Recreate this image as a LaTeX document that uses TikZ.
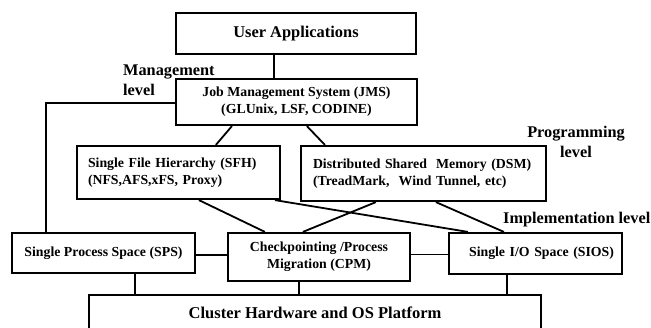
\documentclass[tikz,border=0pt]{standalone}
\usepackage{fontspec}
\setmainfont{Liberation Serif}
\begin{document}
\begin{tikzpicture}[x=1pt,y=-1pt,
  box/.style={draw, line width=2.2pt, inner sep=0pt, font=\bfseries\fontsize{13.8}{17}\selectfont},
  bigbox/.style={box, font=\bfseries\fontsize{16.4}{20}\selectfont},
  lvl/.style={inner sep=0pt, font=\bfseries\fontsize{16.3}{20}\selectfont},
  conn/.style={line width=1.8pt}]
\useasboundingbox (0,0) rectangle (651,327);

% boxes
\node[bigbox, minimum width=240pt, minimum height=41pt] (ua) at (296,33.5) {User Applications};
\node[box, minimum width=241pt, minimum height=46pt, align=center] (jms) at (296.5,102)
  {Job Management System (JMS)\\(GLUnix, LSF, CODINE)};
\node[box, minimum height=53pt, inner xsep=11pt, text width=181pt, align=left] (sfh) at (178.5,172.5)
  {Single File Hierarchy (SFH)\\(NFS,AFS,xFS, Proxy)};
\node[box, minimum height=55pt, inner xsep=12pt, text width=221pt, align=left] (dsm) at (423.5,173.5)
  {Distributed Shared\ \ Memory (DSM)\\(TreadMark,\ \ Wind Tunnel, etc)};
\node[box, minimum width=183pt, minimum height=40pt] (sps) at (103.5,253) {Single Process Space (SPS)};
\node[box, minimum width=182pt, minimum height=48pt, align=center] (cpm) at (319,257)
  {Checkpointing /Process\\Migration (CPM)};
\node[box, minimum height=41pt, inner xsep=8pt, text width=157pt, align=right] (sios) at (535.5,253.5)
  {Single I/O Space (SIOS)};
\node[inner sep=0pt, minimum width=452pt, minimum height=36pt,
      font=\bfseries\fontsize{16.5}{20}\selectfont] (cl) at (315,313) {Cluster Hardware and OS Platform};
\draw[line width=2.2pt] (cl.south west) -- (cl.north west) -- (cl.north east) -- (cl.south east);

% level labels
\node[lvl, anchor=west, align=left] (mgmt) at (123,80) {Management\\level};
\node[lvl, align=center] (prog) at (576,142) {Programming\\level};
\node[lvl, anchor=west] (impl) at (503,220) {Implementation level};

% connectors
\draw[conn] ([xshift=99pt]ua.south west) -- ([xshift=99pt]jms.north west);
\draw[conn] ([yshift=-1pt]jms.west) -| ([xshift=35pt]sps.north west);
\draw[conn] ([xshift=57pt]jms.south west) -- ([xshift=140pt]sfh.north west);
\draw[conn] ([xshift=132pt]jms.south west) -- ([xshift=25pt]dsm.north west);
\draw[conn] ([yshift=-2pt]sps.east) -- ([yshift=-2pt]sps.east -| cpm.west);
\draw[conn] ([yshift=-1pt]sios.west) -- ([yshift=-1pt]sios.west -| cpm.east);
\draw[conn] ([xshift=124pt]sps.south west) -- ([xshift=124pt]sps.south west |- cl.north);
\draw[conn] ([xshift=72pt]cpm.south west) -- ([xshift=72pt]cpm.south west |- cl.north);
\draw[conn] ([xshift=59pt]sios.south west) -- ([xshift=59pt]sios.south west |- cl.north);
\draw[conn] ([xshift=123pt]sfh.south west) -- ([xshift=38pt]cpm.north west);
\draw[conn] ([xshift=199pt]sfh.south west) -- ([xshift=20pt]sios.north west);
\draw[conn] ([xshift=76pt]dsm.south west) -- ([xshift=76pt]cpm.north west);
\draw[conn] ([xshift=136pt]dsm.south west) -- ([xshift=56pt]sios.north west);
\end{tikzpicture}
\end{document}
